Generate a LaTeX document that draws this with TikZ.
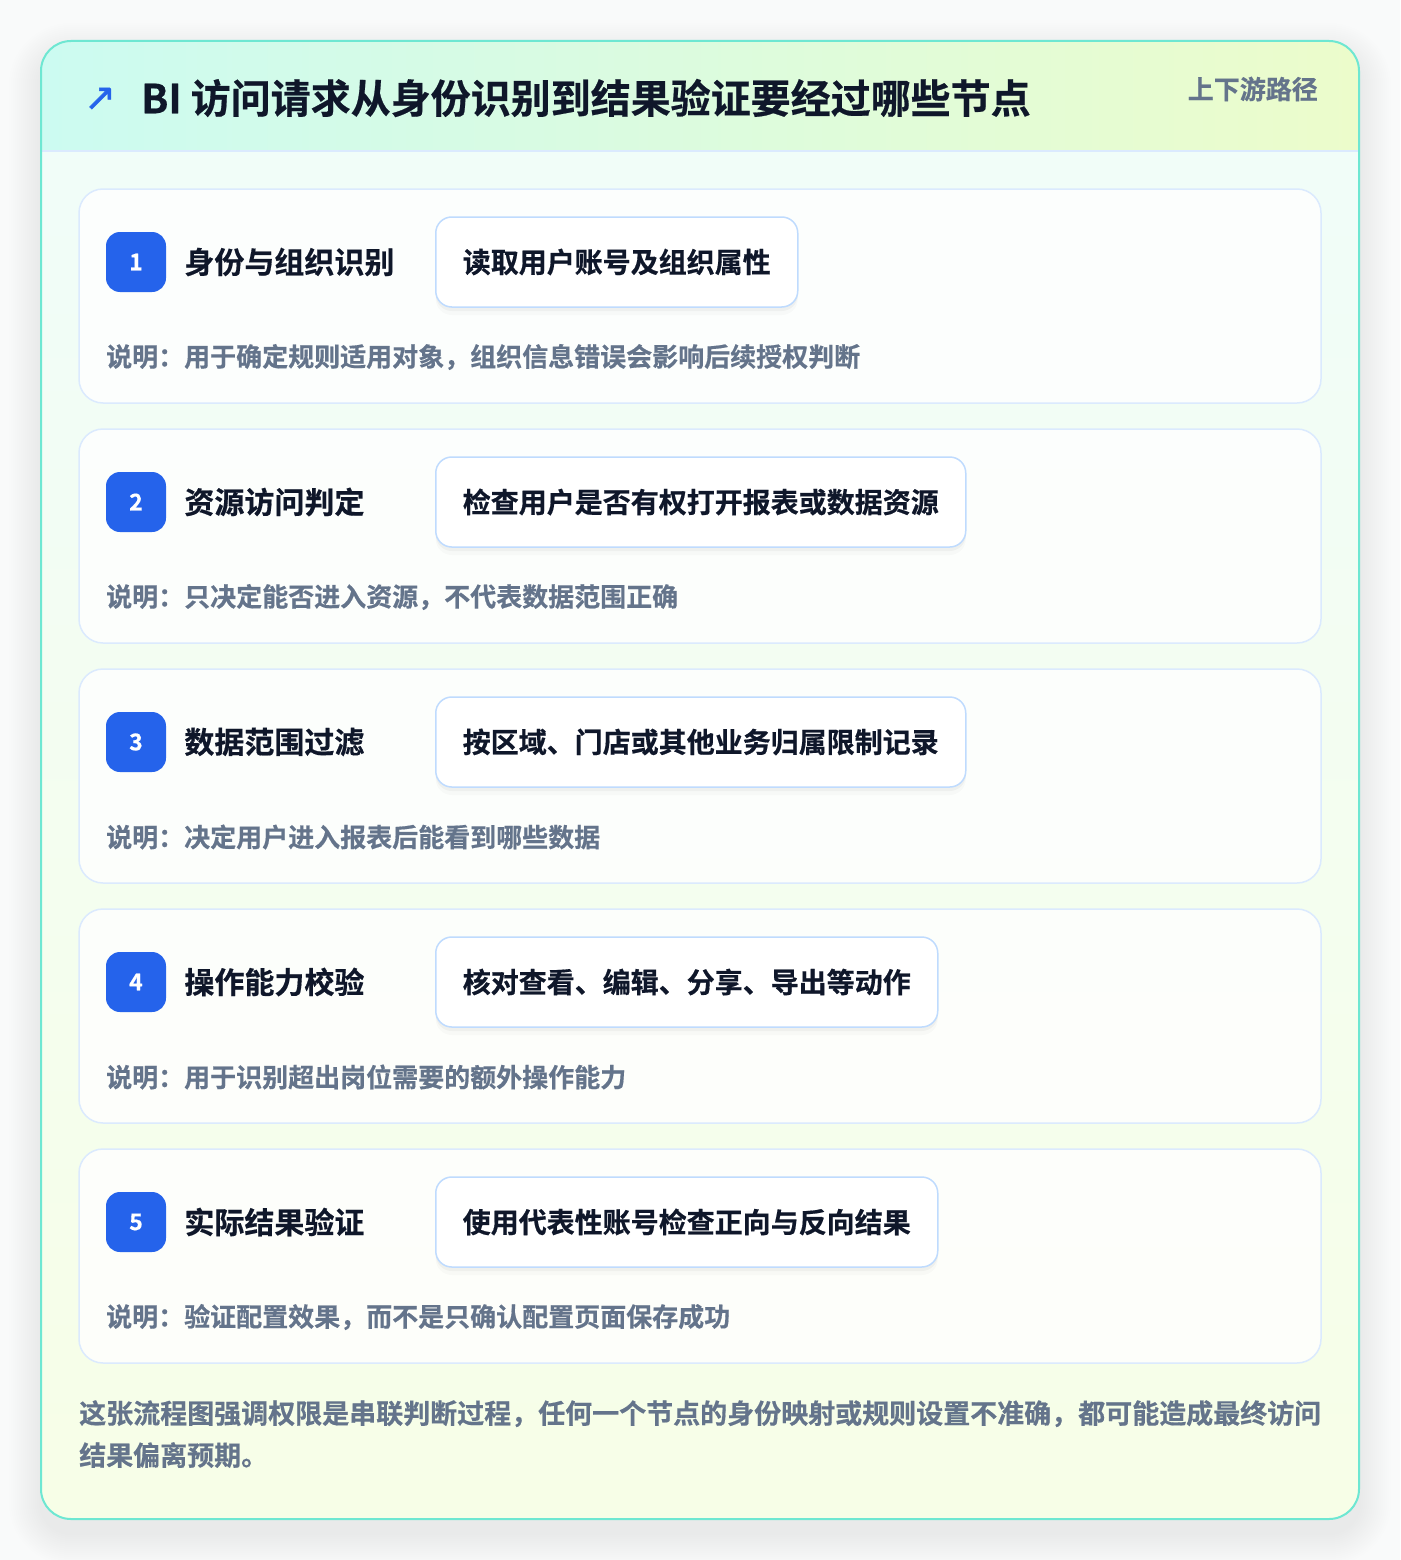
\documentclass[tikz,border=0pt]{standalone}
\usepackage{fontspec}
\setmainfont{Noto Sans CJK SC}[BoldFont={* Bold},BoldFeatures={FakeBold=0.5}]
\newfontfamily\symfont{DejaVu Sans}[FakeBold=1.2]
\usetikzlibrary{positioning,shadows}

\definecolor{pagebg}{HTML}{F9FAFA}
\definecolor{tealline}{HTML}{6EE7D2}
\definecolor{headL}{HTML}{CCFBF1}
\definecolor{headR}{HTML}{ECFCCB}
\definecolor{bodyT}{HTML}{F0FDFA}
\definecolor{bodyB}{HTML}{F7FEE7}
\definecolor{cardline}{HTML}{DBEAFE}
\definecolor{pillline}{HTML}{BFDBFE}
\definecolor{badgeblue}{HTML}{2563EB}
\definecolor{ink}{HTML}{0F172A}
\definecolor{muted}{HTML}{64748B}

\tikzset{
  stepcard/.style={draw=cardline,line width=1.5pt,fill=white,fill opacity=0.8,
    rounded corners=24pt,minimum width=1242pt,minimum height=214pt,inner sep=0pt},
  numbadge/.style={fill=badgeblue,rounded corners=14pt,minimum size=60pt,inner sep=0pt,
    text=white,font=\fontsize{23}{23}\selectfont\bfseries},
  steptitle/.style={inner sep=0pt,text=ink,font=\fontsize{30}{30}\selectfont\bfseries},
  actpill/.style={anchor=west,draw=pillline,line width=1.5pt,fill=white,rounded corners=16pt,
    minimum height=90pt,inner xsep=27pt,text=ink,font=\fontsize{28}{28}\selectfont\bfseries,
    drop shadow={shadow xshift=0pt,shadow yshift=-4pt,shadow scale=1,opacity=0.035,fill=black},
    drop shadow={shadow xshift=0pt,shadow yshift=-8pt,shadow scale=1,opacity=0.02,fill=black}},
  stepnote/.style={anchor=west,inner sep=0pt,text=muted,font=\fontsize{26}{26}\selectfont\bfseries}
}

\begin{document}
\begin{tikzpicture}[x=1pt,y=-1pt]
\useasboundingbox (0,0) rectangle (1400,1560);
\fill[pagebg] (0,0) rectangle (1400,1560);

% soft shadow of the panel
\foreach \i in {1,...,16}{
  \pgfmathsetmacro\rr{30+2*\i}
  \fill[black,opacity=0.004,rounded corners=\rr pt]
    (41-2*\i,41-2*\i+14) rectangle (1359+2*\i,1519+2*\i+14);
}

% panel body and header band
\begin{scope}
  \clip[rounded corners=30pt] (41,41) rectangle (1359,1519);
  \shade[top color=bodyT,bottom color=bodyB] (41,41) rectangle (1359,1519);
  \shade[left color=headL,right color=headR] (41,41) rectangle (1359,151);
  \draw[cardline,line width=1.5pt] (41,151) -- (1359,151);
\end{scope}
\draw[tealline,line width=2pt,rounded corners=30pt] (41,41) rectangle (1359,1519);

% header
\node[anchor=west,inner sep=0pt,text=badgeblue,font=\fontsize{38}{38}\selectfont\symfont] (icon) at (84,99) {↗};
\node[anchor=west,inner sep=0pt,text=ink,font=\fontsize{40}{40}\selectfont\bfseries] (title) at (141,98)
  {BI 访问请求从身份识别到结果验证要经过哪些节点};
\node[anchor=east,inner sep=0pt,text=muted,font=\fontsize{26}{26}\selectfont\bfseries] (tag) at (1318,89) {上下游路径};

% steps
\foreach \n/\ttl/\act/\note in {
  1/身份与组织识别/读取用户账号及组织属性/说明：用于确定规则适用对象，组织信息错误会影响后续授权判断,
  2/资源访问判定/检查用户是否有权打开报表或数据资源/说明：只决定能否进入资源，不代表数据范围正确,
  3/数据范围过滤/按区域、门店或其他业务归属限制记录/说明：决定用户进入报表后能看到哪些数据,
  4/操作能力校验/核对查看、编辑、分享、导出等动作/说明：用于识别超出岗位需要的额外操作能力,
  5/实际结果验证/使用代表性账号检查正向与反向结果/说明：验证配置效果，而不是只确认配置页面保存成功}{
  \node[stepcard] (card\n) at (700,{296+240*(\n-1)}) {};
  \node[numbadge] (num\n) at (136,{262+240*(\n-1)}) {\n};
  \node[steptitle,right=18pt of num\n] (ttl\n) {\ttl};
  \node[actpill] (act\n) at (435,{262+240*(\n-1)}) {\act};
  \node[stepnote] (note\n) at (106,{357+240*(\n-1)}) {\note};
}

% closing remark
\node[anchor=north west,inner sep=0pt,align=left,text=muted,font=\fontsize{27}{42}\selectfont\bfseries] (remark) at (79,1400)
  {这张流程图强调权限是串联判断过程，任何一个节点的身份映射或规则设置不准确，都可能造成最终访问\\结果偏离预期。};
\end{tikzpicture}
\end{document}
